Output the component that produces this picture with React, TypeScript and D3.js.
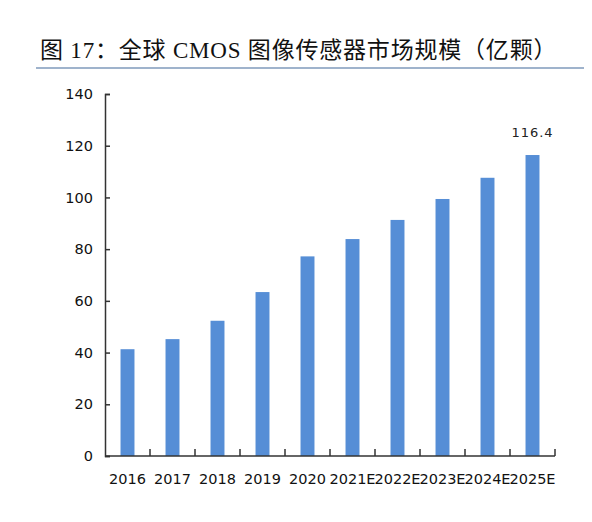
import React, { useEffect, useRef } from "react";
import * as d3 from "d3";

// 年份 / 全球CMOS图像传感器市场规模（亿颗）
const years = ["2016", "2017", "2018", "2019", "2020", "2021E", "2022E", "2023E", "2024E", "2025E"];
const shipments = [41.3, 45.2, 52.3, 63.4, 77.2, 83.9, 91.3, 99.4, 107.6, 116.4];
const yTicks = [0, 20, 40, 60, 80, 100, 120, 140];
const labelled = ["2025E"];

export default function App() {
  const ref = useRef<HTMLDivElement>(null);

  useEffect(() => {
    d3.select(ref.current).selectAll("*").remove();

    const width = 592, height = 522;
    const margin = { top: 94, right: 37, bottom: 66, left: 105 };

    const svg = d3.select(ref.current)
      .append("svg")
      .attr("width", width)
      .attr("height", height)
      .style("display", "block");

    svg.append("rect").attr("width", width).attr("height", height).attr("fill", "#fff");

    // 标题
    svg.append("text")
      .attr("x", 40)
      .attr("y", 58)
      .attr("font-family", "'Liberation Serif', 'Noto Sans CJK SC', serif")
      .attr("font-size", 23)
      .attr("letter-spacing", 0.8)
      .attr("fill", "#111")
      .text("图 17：全球 CMOS 图像传感器市场规模（亿颗）");

    svg.append("line")
      .attr("x1", 36).attr("x2", width)
      .attr("y1", 68).attr("y2", 68)
      .attr("stroke", "#9fb3cc")
      .attr("stroke-width", 2);

    const x = d3.scaleBand<string>()
      .domain(years)
      .range([margin.left, width - margin.right])
      .paddingInner(0.69)
      .paddingOuter(0.345);

    const y = d3.scaleLinear()
      .domain([0, 140])
      .range([height - margin.bottom, margin.top]);

    // 柱子
    svg.append("g")
      .selectAll("rect")
      .data(years)
      .join("rect")
      .attr("x", d => x(d)!)
      .attr("width", x.bandwidth())
      .attr("y", (d, i) => y(shipments[i]))
      .attr("height", (d, i) => y(0) - y(shipments[i]))
      .attr("fill", "#568ed6");

    // 数值标签
    svg.append("g")
      .selectAll("text")
      .data(years.filter(d => labelled.includes(d)))
      .join("text")
      .attr("x", d => x(d)! + x.bandwidth() / 2)
      .attr("y", d => y(shipments[years.indexOf(d)]) - 18)
      .attr("text-anchor", "middle")
      .attr("font-family", "'DejaVu Sans', sans-serif")
      .attr("font-size", 13)
      .attr("letter-spacing", 1)
      .attr("fill", "#222")
      .text(d => shipments[years.indexOf(d)].toFixed(1));

    const font = "'DejaVu Sans', sans-serif";

    // Y轴
    const yAxis = svg.append("g")
      .attr("transform", `translate(${margin.left},0)`)
      .call(d3.axisRight(y).tickValues(yTicks).tickSize(5).tickFormat(d3.format("d")));
    yAxis.select(".domain").attr("stroke", "#333").attr("stroke-width", 1.5);
    yAxis.selectAll(".tick line").attr("stroke", "#333").attr("stroke-width", 1.5);
    yAxis.selectAll(".tick text")
      .attr("x", -12)
      .attr("text-anchor", "end")
      .attr("font-family", font)
      .attr("font-size", 14.5)
      .attr("fill", "#111");

    // X轴
    const step = x.step();
    const boundaries = years.map((d, i) => margin.left + step * (i + 1));
    const xAxis = svg.append("g").attr("transform", `translate(0,${y(0)})`);
    xAxis.append("line")
      .attr("x1", margin.left).attr("x2", width - margin.right)
      .attr("stroke", "#333").attr("stroke-width", 1.5);
    xAxis.selectAll("line.tk")
      .data(boundaries)
      .join("line")
      .attr("class", "tk")
      .attr("x1", d => d).attr("x2", d => d)
      .attr("y1", 0).attr("y2", -7)
      .attr("stroke", "#333").attr("stroke-width", 1.5);
    xAxis.selectAll("text")
      .data(years)
      .join("text")
      .attr("x", d => x(d)! + x.bandwidth() / 2)
      .attr("y", 28)
      .attr("text-anchor", "middle")
      .attr("font-family", font)
      .attr("font-size", 14.5)
      .attr("fill", "#111")
      .text(d => d);
  }, []);

  return <div ref={ref} style={{ margin: -8 }} />;
}
